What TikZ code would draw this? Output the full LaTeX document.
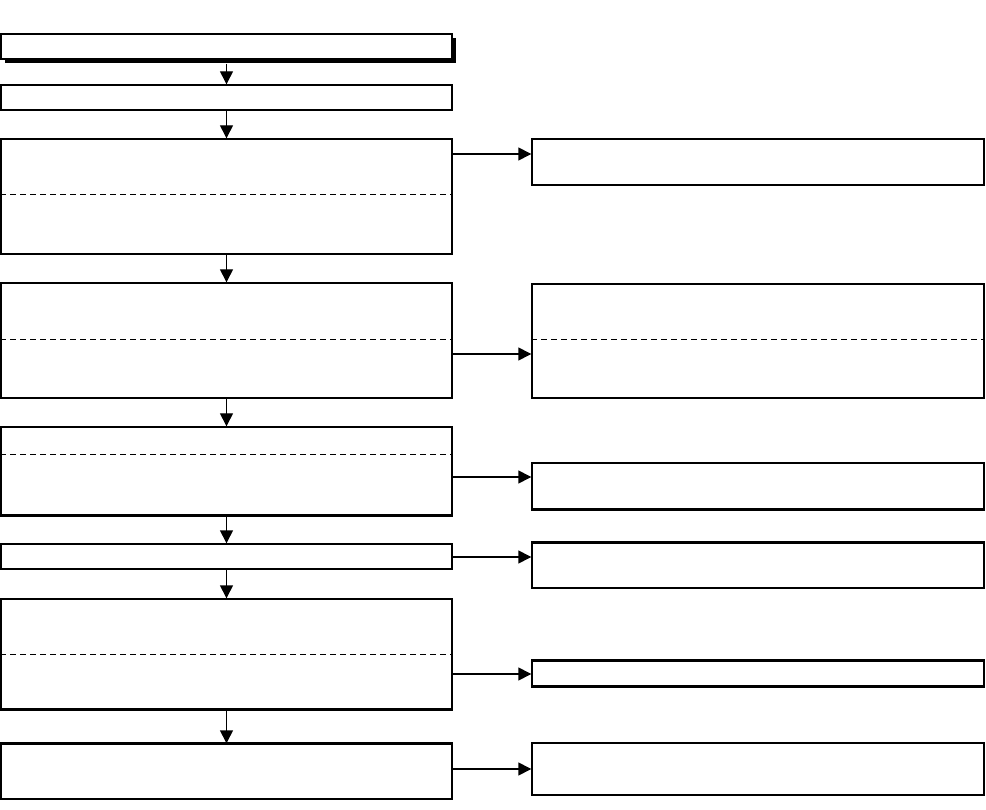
\documentclass[tikz,border=0pt]{standalone}
\usepackage{tikz}
\usetikzlibrary{arrows,arrows.meta,shadows}
\tikzstyle{arrow} = [line width=1.4pt,-{Triangle[length=13pt,width=13pt]}]
\tikzstyle{box} = [rectangle, draw, line width=1.4pt, fill=white, inner sep=0pt]
\tikzstyle{divider} = [line width=1pt, dash pattern=on 6pt off 4pt]
\tikzstyle{heavy} = [line width=2.8pt]

\begin{document}
\begin{tikzpicture}[x=1pt,y=-1pt]
\useasboundingbox (0,0) rectangle (986,810);
\node [box, minimum width=451pt, minimum height=25pt, drop shadow={shadow xshift=3.5pt, shadow yshift=-4pt, fill=black, opacity=1}] (t1) at (226.5,46.5) {};
\node [box, minimum width=451pt, minimum height=25pt] (t2) at (226.5,97.5) {};
\node [box, minimum width=451pt, minimum height=115pt] (t3) at (226.5,196.5) {};
\node [box, minimum width=451pt, minimum height=115pt] (t4) at (226.5,340.5) {};
\node [box, minimum width=451pt, minimum height=88pt] (t5) at (226.5,471) {};
\node [box, minimum width=451pt, minimum height=25pt] (t6) at (226.5,556.5) {};
\node [box, minimum width=451pt, minimum height=110pt] (t7) at (226.5,654) {};
\node [box, minimum width=451pt, minimum height=55pt] (t8) at (226.5,771.5) {};
\node [box, minimum width=452pt, minimum height=46pt] (r1) at (758,162) {};
\node [box, minimum width=452pt, minimum height=114pt] (r2) at (758,341) {};
\node [box, minimum width=452pt, minimum height=46pt] (r3) at (758,486) {};
\node [box, minimum width=452pt, minimum height=45pt] (r4) at (758,565.5) {};
\node [box, minimum width=452pt, minimum height=25pt] (r5) at (758,673.5) {};
\node [box, minimum width=452pt, minimum height=52pt] (r6) at (758,769) {};
\draw [divider] (t3.west |- 0,195) to (t3.east |- 0,195);
\draw [divider] (t4.west |- 0,340) to (t4.east |- 0,340);
\draw [divider] (t5.west |- 0,454) to (t5.east |- 0,454);
\draw [divider] (t7.west |- 0,654) to (t7.east |- 0,654);
\draw [divider] (r2.west |- 0,340) to (r2.east |- 0,340);
\draw [heavy] (t5.south west) to (t5.south east);
\draw [heavy] (t7.south west) to (t7.south east);
\draw [heavy] (t8.north west) to (t8.north east);
\draw [heavy] (r3.south west) to (r3.south east);
\draw [heavy] (r4.north west) to (r4.north east);
\draw [heavy] (r5.north west) to (r5.north east);
\draw [heavy] (r5.south west) to (r5.south east);
\draw [arrow] (t1.south) ++(0,4) to (t2.north);
\draw [arrow] (t2) to (t3);
\draw [arrow] (t3) to (t4);
\draw [arrow] (t4) to (t5);
\draw [arrow] (t5) to (t6);
\draw [arrow] (t6) to (t7);
\draw [arrow] (t7) to (t8);
\draw [arrow] (t3.east |- 0,154) to (r1.west |- 0,154);
\draw [arrow] (t4.east |- 0,354) to (r2.west |- 0,354);
\draw [arrow] (t5.east |- 0,477) to (r3.west |- 0,477);
\draw [arrow] (t6.east |- 0,557) to (r4.west |- 0,557);
\draw [arrow] (t7.east |- 0,674) to (r5.west |- 0,674);
\draw [arrow] (t8.east |- 0,769) to (r6.west |- 0,769);
\end{tikzpicture}
\end{document}
